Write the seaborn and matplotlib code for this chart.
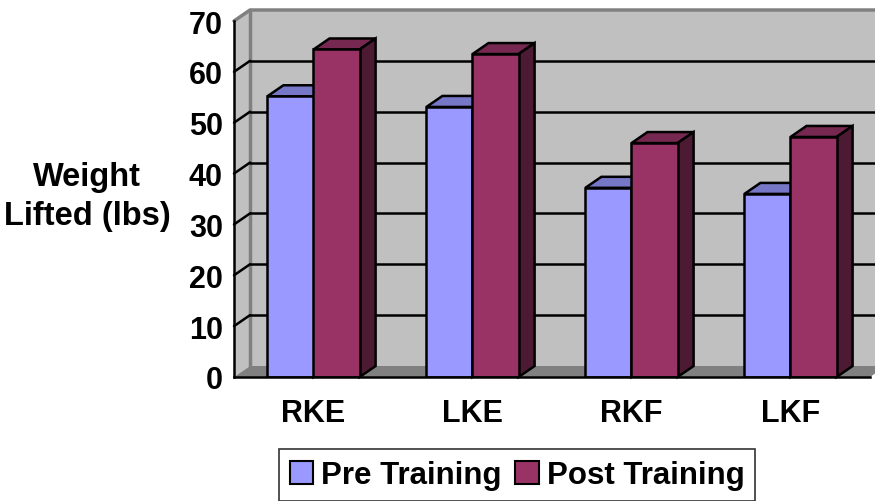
import numpy as np
import pandas as pd
import matplotlib
matplotlib.use("Agg")
import matplotlib.pyplot as plt
from matplotlib.patches import Polygon, Patch
import seaborn as sns

# chart data
tests = ["RKE", "LKE", "RKF", "LKF"]
pre_training = [55.2, 53.1, 37.2, 36.0]
post_training = [64.4, 63.5, 46.0, 47.2]
y_ticks = [0, 10, 20, 30, 40, 50, 60, 70]

df = pd.DataFrame({
    "Test": tests * 2,
    "Phase": ["Pre Training"] * 4 + ["Post Training"] * 4,
    "Weight": pre_training + post_training,
})

sns.set_style("white")
plt.rcParams["font.family"] = ["Liberation Sans", "DejaVu Sans"]
plt.rcParams["font.weight"] = "bold"
plt.rcParams["text.color"] = "black"
plt.rcParams["xtick.color"] = "black"
plt.rcParams["ytick.color"] = "black"

W, H = 875, 502
fig = plt.figure(figsize=(W / 100, H / 100), dpi=100)
fig.patch.set_facecolor("white")

# front plane of the plot in pixels
left, right, top, bottom = 234, 870, 22, 378
ax = fig.add_axes([left / W, 1 - bottom / H, (right - left) / W, (bottom - top) / H])
ax.patch.set_visible(False)

# depth of the fake 3d box (axes fraction)
DX = 16 / (right - left)
DY = 11 / (bottom - top)
wall = "#C0C0C0"
edge = "#808080"

# walls and floor
ax.add_patch(Polygon([(DX, DY), (1 + DX, DY), (1 + DX, 1 + DY), (DX, 1 + DY)],
                     closed=True, transform=ax.transAxes, clip_on=False,
                     facecolor=wall, edgecolor="none", zorder=0.2))
ax.add_patch(Polygon([(0, 0), (DX, DY), (DX, 1 + DY), (0, 1)],
                     closed=True, transform=ax.transAxes, clip_on=False,
                     facecolor=wall, edgecolor="none", zorder=0.2))
ax.add_patch(Polygon([(0, 0), (1, 0), (1 + DX, DY), (DX, DY)],
                     closed=True, transform=ax.transAxes, clip_on=False,
                     facecolor=edge, edgecolor="none", zorder=0.3))
ax.plot([DX, DX], [DY, 1 + DY], color=edge, lw=2.5, transform=ax.transAxes,
        clip_on=False, zorder=0.4)
ax.plot([0, DX, 1 + DX], [1, 1 + DY, 1 + DY], color=edge, lw=2.5,
        transform=ax.transAxes, clip_on=False, zorder=0.4)

# gridlines on back wall and left wall
for v in y_ticks[1:-1]:
    f = v / 70
    ax.plot([DX, 1 + DX], [f + DY, f + DY], color="black", lw=1.8,
            transform=ax.transAxes, clip_on=False, zorder=0.5)
    ax.plot([0, DX], [f, f + DY], color="black", lw=1.8,
            transform=ax.transAxes, clip_on=False, zorder=0.5)

sns.barplot(data=df, x="Test", y="Weight", hue="Phase",
            palette=["#9999FF", "#993366"], width=0.58, errorbar=None,
            saturation=1, edgecolor="black", linewidth=1.8, legend=False,
            zorder=3, ax=ax)

ax.set_xlim(-0.5, 3.5)
ax.set_ylim(0, 70)

# top and side faces of each bar
ddx = DX * 4
ddy = DY * 70
for p in list(ax.patches):
    if not hasattr(p, "get_width") or p.get_zorder() != 3:
        continue
    x0, w, h = p.get_x(), p.get_width(), p.get_height()
    fc = np.array(p.get_facecolor()[:3])
    ax.add_patch(Polygon([(x0, h), (x0 + w, h), (x0 + w + ddx, h + ddy), (x0 + ddx, h + ddy)],
                         closed=True, facecolor=fc * 0.78, edgecolor="black",
                         lw=1.8, zorder=2, clip_on=False))
    ax.add_patch(Polygon([(x0 + w, 0), (x0 + w + ddx, ddy), (x0 + w + ddx, h + ddy), (x0 + w, h)],
                         closed=True, facecolor=fc * 0.5, edgecolor="black",
                         lw=1.8, zorder=2, clip_on=False))

# axes
sns.despine(ax=ax, top=True, right=True)
for s in ["left", "bottom"]:
    ax.spines[s].set_color("black")
    ax.spines[s].set_linewidth(1.8)
    ax.spines[s].set_zorder(4)
ax.set_yticks(y_ticks)
ax.set_yticklabels([str(v) for v in y_ticks], fontsize=22, fontweight="bold")
ax.tick_params(axis="y", direction="out", length=5, width=1.8, pad=3, color="black")
ax.set_xticks(range(4))
ax.set_xticklabels(tests, fontsize=22, fontweight="bold")
ax.tick_params(axis="x", which="major", length=0, pad=15)
ax.set_xticks([-0.5, 0.5, 1.5, 2.5, 3.5], minor=True)
ax.tick_params(axis="x", which="minor", direction="out", length=6, width=1.8, color="black")
ax.set_xlabel("")
ax.set_ylabel("")

fig.text(87 / W, 1 - 197 / H, "Weight\nLifted (lbs)", ha="center", va="center",
         fontsize=23.5, fontweight="bold", linespacing=1.35, color="black")

handles = [Patch(facecolor="#9999FF", edgecolor="black", lw=1.5, label="Pre Training"),
           Patch(facecolor="#993366", edgecolor="black", lw=1.5, label="Post Training")]
leg = fig.legend(handles=handles, loc="center", bbox_to_anchor=(517 / W, 1 - 476 / H),
                 ncol=2, fontsize=22.5, frameon=True, fancybox=False,
                 handlelength=0.75, handleheight=0.75, handletextpad=0.25,
                 columnspacing=0.45, borderpad=0.35, borderaxespad=0)
leg.get_frame().set_edgecolor("black")
leg.get_frame().set_linewidth(1.2)
for t in leg.get_texts():
    t.set_fontweight("bold")
    t.set_color("black")

fig.savefig("out.png", dpi=100)
